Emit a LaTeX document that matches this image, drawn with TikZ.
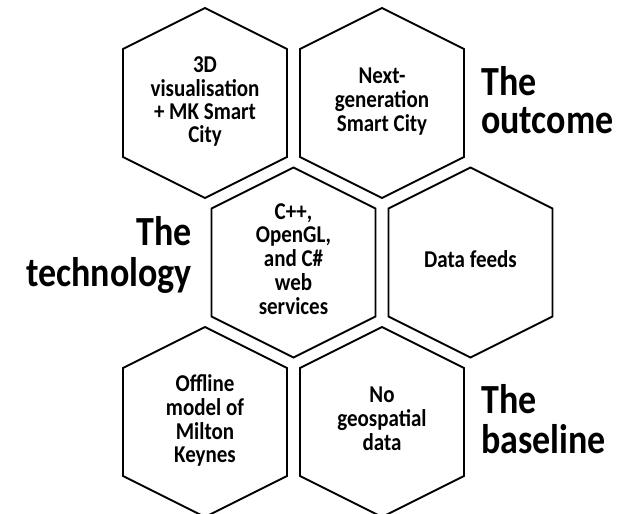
\documentclass[tikz,border=0pt]{standalone}
\usepackage{fontspec}
\setmainfont{Carlito}
\usepackage{tikz}
\usetikzlibrary{positioning}

\newcommand{\tallbox}[2][c]{\scalebox{1}[1.15]{\begin{tabular}{@{}#1@{}}#2\end{tabular}}}

\tikzset{
	hexcell/.style={on grid,inner sep=0pt,font=\fontsize{21}{20}\selectfont\bfseries},
	hexline/.style={line width=1.8pt,line join=miter},
	bigtext/.style={inner sep=0pt,font=\fontsize{36}{33}\selectfont\bfseries}
}

\begin{document}
\begin{tikzpicture}[x=1pt,y=1pt,node distance=159.5pt and 88.5pt]
		\useasboundingbox (0,0) rectangle (622,-514);
		\node[hexcell] at (205,-103) (tl) {\tallbox{3D\\visualisation\\+ MK Smart\\City}};
		\node[hexcell] [right=177pt of tl] (tr) {\tallbox{Next-\\generation\\Smart City}};
		\node[hexcell] [below right=of tl] (ml) {\tallbox{C++,\\OpenGL,\\and C\#\\web\\services}};
		\node[hexcell] [right=177pt of ml] (mr) {\tallbox{Data feeds}};
		\node[hexcell] [below left=of ml] (bl) {\tallbox{Offline\\model of\\Milton\\Keynes}};
		\node[hexcell] [right=177pt of bl] (br) {\tallbox{No\\geospatial\\data}};
		% hexagon outlines
		\foreach \c in {tl,tr,ml,mr,bl,br}
			\draw[hexline] (\c.center) ++(0,95) -- ++(82,-41) -- ++(0,-108) -- ++(-82,-41) -- ++(-82,41) -- ++(0,108) -- cycle;
		% row labels
		\node[bigtext] [right=99pt of tr.center,yshift=-2.5pt] (outcome) {\tallbox[l]{The\\outcome}};
		\node[bigtext] [left=101.5pt of ml.center,yshift=5.5pt] (technology) {\tallbox[r]{The\\technology}};
		\node[bigtext] [right=99pt of br.center,yshift=-2.5pt] (baseline) {\tallbox[l]{The\\baseline}};
	\end{tikzpicture}
\end{document}
